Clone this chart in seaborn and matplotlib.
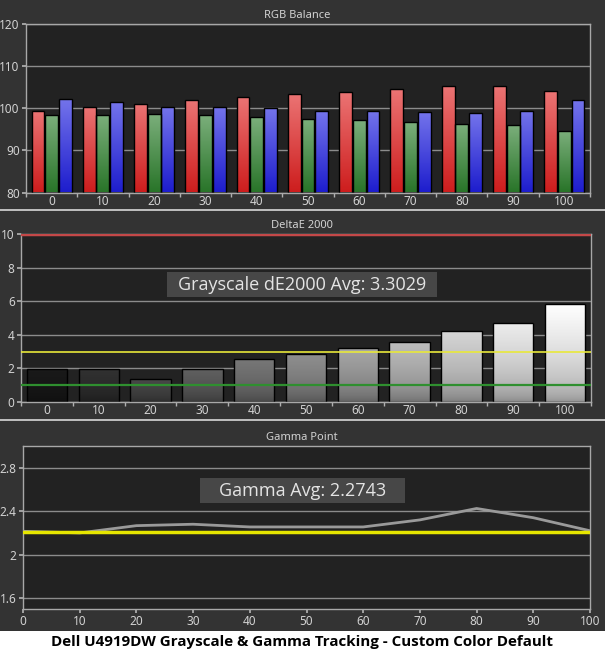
import numpy as np
import pandas as pd
import matplotlib
matplotlib.use('Agg')
import matplotlib.pyplot as plt
import seaborn as sns
from matplotlib.patches import Rectangle
from matplotlib.lines import Line2D

# stimulus levels (% of white)
levels = [0, 10, 20, 30, 40, 50, 60, 70, 80, 90, 100]

# RGB balance (%)
red = [99.4, 100.4, 101.1, 101.9, 102.6, 103.3, 103.8, 104.5, 105.2, 105.2, 104.0]
green = [98.5, 98.5, 98.7, 98.3, 97.9, 97.5, 97.3, 96.8, 96.3, 96.0, 94.7]
blue = [102.1, 101.6, 100.2, 100.2, 100.0, 99.3, 99.3, 99.0, 98.8, 99.3, 101.9]

# grayscale error
delta_e = [1.95, 1.95, 1.35, 1.95, 2.55, 2.85, 3.2, 3.6, 4.2, 4.7, 5.85]
de_avg = '3.3029'

# gamma per step
gamma = [2.215, 2.20, 2.267, 2.28, 2.255, 2.255, 2.255, 2.32, 2.425, 2.34, 2.22]
gamma_target = 2.21
gamma_avg = '2.2743'

W, H = 605, 652
PANEL_BG = '#333333'
PLOT_BG = '#222222'
TXT = '#d2d2d2'

sns.set_theme(style='dark', rc={
    'axes.facecolor': PLOT_BG,
    'figure.facecolor': PANEL_BG,
    'axes.edgecolor': '#a8a8a8',
    'axes.linewidth': 1.0,
    'grid.color': '#8c8c8c',
    'grid.linewidth': 1.0,
    'xtick.color': '#b0b0b0',
    'ytick.color': '#b0b0b0',
    'xtick.labelcolor': TXT,
    'ytick.labelcolor': TXT,
    'xtick.bottom': True,
    'ytick.left': True,
    'xtick.major.size': 3,
    'ytick.major.size': 3,
    'xtick.minor.size': 3,
    'xtick.labelsize': 8.5,
    'ytick.labelsize': 8.5,
})
plt.rcParams['font.family'] = ['Noto Sans', 'DejaVu Sans']


def px_axes(fig, left, right, top, bottom):
    return fig.add_axes([left / W, 1 - bottom / H, (right - left) / W, (bottom - top) / H])


def shade_bar(ax, patch, top_rgb, bottom_rgb, curve=1.0):
    x0, y0 = patch.get_x(), patch.get_y()
    w, h = patch.get_width(), patch.get_height()
    lo = max(y0, ax.get_ylim()[0])
    hi = y0 + h
    t = np.linspace(0, 1, 128)[:, None] ** curve
    img = np.asarray(bottom_rgb) + (np.asarray(top_rgb) - np.asarray(bottom_rgb)) * t
    im = ax.imshow(img[:, None, :].clip(0, 1), extent=(x0, x0 + w, lo, hi), origin='lower',
                   aspect='auto', interpolation='bilinear', zorder=patch.get_zorder() - 0.05)
    im.set_clip_path(patch)
    patch.set_facecolor('none')


def style_axis(ax):
    ax.grid(True, axis='y')
    ax.grid(False, axis='x')
    ax.set_axisbelow(True)
    ax.set_xlabel('')
    ax.set_ylabel('')
    ax.tick_params(axis='both', pad=1.5)
    for s in ax.spines.values():
        s.set_visible(True)
        s.set_color('#a8a8a8')


fig = plt.figure(figsize=(W / 100, H / 100), dpi=100)

# panel backgrounds, separators and white caption band
fig.patches.append(Rectangle((0, 0), 1, 21 / H, transform=fig.transFigure,
                             facecolor='white', edgecolor='none', zorder=-5))
for y in (210, 420):
    fig.lines.append(Line2D([0, 1], [1 - y / H] * 2, transform=fig.transFigure,
                            color='#d8d8d8', lw=1.2))

# ---- RGB Balance ----
ax1 = px_axes(fig, 26, 590, 24, 192.5)
rgb = pd.DataFrame({
    'level': levels * 3,
    'channel': ['R'] * 11 + ['G'] * 11 + ['B'] * 11,
    'value': red + green + blue,
})
rgb_colors = {'R': (1.0, 0.0, 0.0), 'G': (0.12, 0.55, 0.12), 'B': (0.0, 0.0, 1.0)}
sns.barplot(data=rgb, x='level', y='value', hue='channel', palette=rgb_colors,
            width=0.8, edgecolor='black', linewidth=1, legend=False, ax=ax1)
ax1.set_ylim(80, 120)
ax1.set_yticks([80, 90, 100, 110, 120])
for p in ax1.patches:
    w = p.get_width()
    p.set_width(w * 0.94)
    p.set_x(p.get_x() + w * 0.03)
    base = np.array(p.get_facecolor()[:3])
    shade_bar(ax1, p, base + (1 - base) * 0.38, base * 0.92)
ax1.set_xlim(-0.5, 10.5)
ax1.set_ylim(80, 120)
ax1.set_xticks(range(11), [str(v) for v in levels])
ax1.set_xticks(np.arange(-0.5, 11, 1), minor=True)
ax1.tick_params(axis='x', which='major', length=0)
ax1.tick_params(axis='x', which='minor', length=3, direction='out')
style_axis(ax1)
fig.text(297 / W, 1 - 15 / H, 'RGB Balance', ha='center', va='center', color=TXT, fontsize=8)

# ---- DeltaE 2000 ----
ax2 = px_axes(fig, 21, 591, 234, 402)
gray_levels = [v / 100 for v in levels]
sns.barplot(x=levels, y=delta_e, hue=levels, palette=[(g, g, g) for g in gray_levels],
            width=0.78, edgecolor='black', linewidth=1, legend=False, ax=ax2)
ax2.set_ylim(0, 10)
for p in ax2.patches:
    g = p.get_facecolor()[0]
    top = min(1.0, 0.1 + 0.92 * g)
    shade_bar(ax2, p, (top,) * 3, (top * 0.55,) * 3, curve=0.5)
ax2.set_xlim(-0.5, 10.5)
ax2.set_ylim(0, 10)
ax2.set_yticks([0, 2, 4, 6, 8, 10])
ax2.set_xticks(range(11), [str(v) for v in levels])
ax2.set_xticks(np.arange(-0.5, 11, 1), minor=True)
ax2.tick_params(axis='x', which='major', length=0)
ax2.tick_params(axis='x', which='minor', length=3, direction='out')
style_axis(ax2)
ax2.axhline(10, color='#c44848', lw=2.5, zorder=4)
ax2.axhline(3, color='#e8e83a', lw=1.2, zorder=4)
ax2.axhline(1, color='#2f8f2f', lw=1.6, zorder=4)
fig.text(302 / W, 1 - 226 / H, 'DeltaE 2000', ha='center', va='center', color=TXT, fontsize=8)

fig.patches.append(Rectangle((167 / W, 1 - 297 / H), 270 / W, 25 / H, transform=fig.transFigure,
                             facecolor='#474747', edgecolor='none', zorder=5))
fig.text(302 / W, 1 - 285 / H, f'Grayscale dE2000 Avg: {de_avg}', ha='center', va='center',
         color='#e4e4e4', fontsize=13, family='Open Sans', zorder=6)

# ---- Gamma Point ----
ax3 = px_axes(fig, 23, 590, 446, 609)
sns.lineplot(x=levels, y=gamma, color='#9a9a9a', lw=2, ax=ax3, zorder=3)
ax3.axhline(gamma_target, color='#e6e600', lw=2.5, zorder=4)
ax3.set_xlim(0, 100)
ax3.set_ylim(1.5, 3.0)
ax3.set_yticks([1.6, 2.0, 2.4, 2.8], ['1.6', '2', '2.4', '2.8'])
ax3.set_xticks(levels, [str(v) for v in levels])
ax3.tick_params(axis='x', length=3, direction='out')
style_axis(ax3)
fig.text(302 / W, 1 - 437 / H, 'Gamma Point', ha='center', va='center', color=TXT, fontsize=8)

fig.patches.append(Rectangle((200 / W, 1 - 503 / H), 205 / W, 25 / H, transform=fig.transFigure,
                             facecolor='#474747', edgecolor='none', zorder=5))
fig.text(302.5 / W, 1 - 491 / H, f'Gamma Avg: {gamma_avg}', ha='center', va='center',
         color='#e4e4e4', fontsize=13, family='Open Sans', zorder=6)

fig.text(302 / W, 1 - 642 / H, 'Dell U4919DW Grayscale & Gamma Tracking - Custom Color Default',
         ha='center', va='center', color='black', fontsize=10.9, fontweight='bold', family='Open Sans')

fig.savefig('out.png', dpi=100, facecolor=PANEL_BG)
